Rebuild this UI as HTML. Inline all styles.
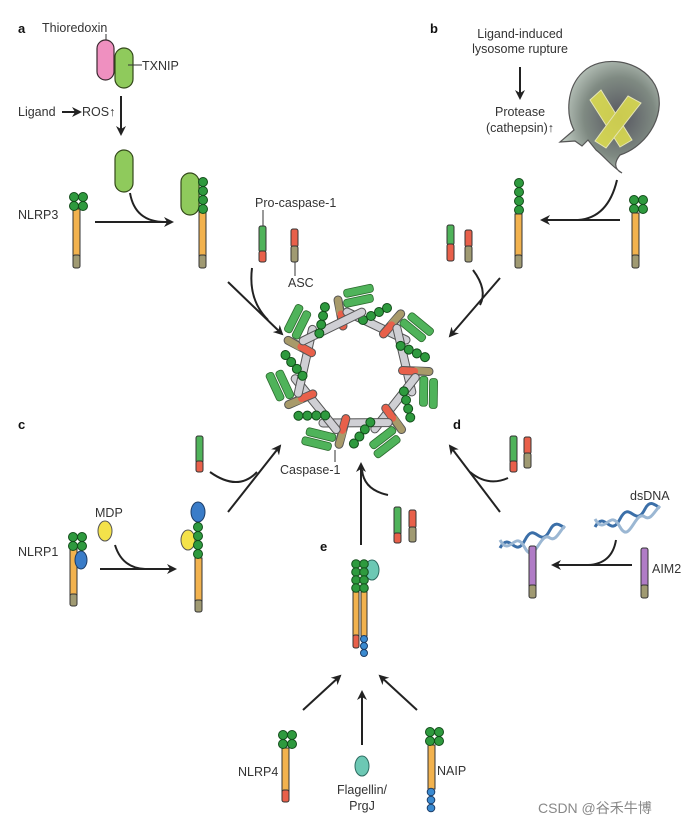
<!DOCTYPE html>
<html><head><meta charset="utf-8"><style>
html,body{margin:0;padding:0;background:#fff}
svg{display:block}
text{font-family:"Liberation Sans","Noto Sans CJK SC",sans-serif;fill:#333;font-size:12.5px}
.b{font-weight:bold;font-size:13px;fill:#111}
</style></head><body>
<svg width="690" height="824" viewBox="0 0 690 824" xmlns="http://www.w3.org/2000/svg">
<defs>
<marker id="ar" markerWidth="10" markerHeight="10" refX="8" refY="5" orient="auto" markerUnits="userSpaceOnUse">
<path d="M0,0 L10,5 L0,10 L3,5 Z" fill="#222"/></marker>
<radialGradient id="lys" cx="0.6" cy="0.5" r="0.65"><stop offset="0" stop-color="#55555f"/><stop offset="0.55" stop-color="#7f8a82"/><stop offset="1" stop-color="#cdd8cf"/></radialGradient>
<g id="ring1">
 <line x1="338" y1="300" x2="343" y2="326" stroke="#555" stroke-width="9" stroke-linecap="round"/>
 <line x1="338" y1="300" x2="340" y2="313" stroke="#a89a6a" stroke-width="7" stroke-linecap="round"/>
 <line x1="341" y1="314" x2="343" y2="326" stroke="#e8604a" stroke-width="7" stroke-linecap="round"/>
 <g stroke="#2c6a2e" stroke-width="0.8" fill="#4fb35a">
  <rect x="343" y="290" width="30" height="8" rx="3" transform="rotate(-12 343 290)"/>
  <rect x="343" y="300" width="30" height="8" rx="3" transform="rotate(-12 343 300)"/>
 </g>
 <line x1="347" y1="312" x2="406" y2="340" stroke="#555" stroke-width="9" stroke-linecap="round"/>
 <line x1="347" y1="312" x2="406" y2="340" stroke="#cfcfd4" stroke-width="7" stroke-linecap="round"/>
 <g fill="#2e9a3e" stroke="#134d1b" stroke-width="1">
  <circle cx="363" cy="320" r="4.5"/><circle cx="371" cy="316" r="4.5"/><circle cx="379" cy="312" r="4.5"/><circle cx="387" cy="308" r="4.5"/>
 </g>
</g>
</defs>

<!-- Panel a -->
<text x="18" y="33" class="b">a</text>
<text x="42" y="32">Thioredoxin</text>
<line x1="106" y1="34" x2="106" y2="41" stroke="#333"/>
<rect x="97" y="40" width="17" height="40" rx="8.5" fill="#ef90c0" stroke="#3a2a30" stroke-width="1.2"/>
<rect x="115" y="48" width="18" height="40" rx="9" fill="#8fca5c" stroke="#33481a" stroke-width="1.2"/>
<line x1="128" y1="65" x2="142" y2="65" stroke="#333"/>
<text x="142" y="70">TXNIP</text>
<text x="18" y="116">Ligand</text>
<line x1="62" y1="112" x2="80" y2="112" stroke="#222" stroke-width="2" marker-end="url(#ar)"/>
<text x="82" y="116">ROS↑</text>
<line x1="121" y1="96" x2="121" y2="134" stroke="#222" stroke-width="2" marker-end="url(#ar)"/>
<rect x="115" y="150" width="18" height="42" rx="9" fill="#8fca5c" stroke="#33481a" stroke-width="1.2"/>
<text x="18" y="219">NLRP3</text>
<g stroke="#333" stroke-width="1"><rect x="73" y="209" width="7" height="48" fill="#f2b24e"/><rect x="73" y="255" width="7" height="13" rx="2" fill="#a09a72"/></g>
<g fill="#2e9a3e" stroke="#134d1b"><circle cx="74" cy="197" r="4.5"/><circle cx="83" cy="197" r="4.5"/><circle cx="74" cy="206" r="4.5"/><circle cx="83" cy="206" r="4.5"/></g>
<line x1="95" y1="222" x2="172" y2="222" stroke="#222" stroke-width="2" marker-end="url(#ar)"/>
<path d="M130,193 Q135,222 165,222" fill="none" stroke="#222" stroke-width="2"/>
<rect x="181" y="173" width="18" height="42" rx="9" fill="#8fca5c" stroke="#33481a" stroke-width="1.2"/>
<g stroke="#333" stroke-width="1"><rect x="199" y="211" width="7" height="46" fill="#f2b24e"/><rect x="199" y="255" width="7" height="13" rx="2" fill="#a09a72"/></g>
<g fill="#2e9a3e" stroke="#134d1b"><circle cx="203" cy="182" r="4.5"/><circle cx="203" cy="191" r="4.5"/><circle cx="203" cy="200" r="4.5"/><circle cx="203" cy="209" r="4.5"/></g>
<text x="255" y="207">Pro-caspase-1</text>
<line x1="263" y1="210" x2="263" y2="226" stroke="#333"/>
<g stroke="#333" stroke-width="1"><rect x="259" y="226" width="7" height="26" rx="2" fill="#4fb35a"/><rect x="259" y="251" width="7" height="11" rx="2" fill="#e8604a"/>
<rect x="291" y="229" width="7" height="18" rx="2" fill="#e8604a"/><rect x="291" y="246" width="7" height="16" rx="2" fill="#a09a72"/></g>
<line x1="295" y1="262" x2="295" y2="276" stroke="#333"/>
<text x="288" y="287">ASC</text>
<line x1="228" y1="282" x2="282" y2="334" stroke="#222" stroke-width="2" marker-end="url(#ar)"/>
<path d="M252,268 Q248,300 268,320" fill="none" stroke="#222" stroke-width="2"/>

<!-- Panel b -->
<text x="430" y="33" class="b">b</text>
<text x="520" y="38" text-anchor="middle">Ligand-induced</text>
<text x="520" y="53" text-anchor="middle">lysosome rupture</text>
<line x1="520" y1="67" x2="520" y2="98" stroke="#222" stroke-width="2" marker-end="url(#ar)"/>
<text x="520" y="116" text-anchor="middle">Protease</text>
<text x="520" y="132" text-anchor="middle">(cathepsin)↑</text>
<path d="M622,173 C612,168 616,160 620,155 C650,145 668,110 655,85 C640,58 600,55 583,72 C566,88 566,115 574,130 L560,142 L575,141 L582,146 L588,140 L596,150 C604,156 610,165 622,173 Z" fill="url(#lys)" stroke="#555" stroke-width="1.2"/>
<g stroke="#fbf9c0" stroke-width="1" fill="#e0e04e" opacity="0.85">
<polygon points="590,100 601,90 632,140 620,147"/><polygon points="628,96 641,103 606,148 595,141"/></g>
<g fill="#2e9a3e" stroke="#134d1b"><circle cx="634" cy="200" r="4.5"/><circle cx="643" cy="200" r="4.5"/><circle cx="634" cy="209" r="4.5"/><circle cx="643" cy="209" r="4.5"/></g>
<g stroke="#333" stroke-width="1"><rect x="632" y="213" width="7" height="44" fill="#f2b24e"/><rect x="632" y="255" width="7" height="13" rx="2" fill="#a09a72"/></g>
<line x1="620" y1="220" x2="542" y2="220" stroke="#222" stroke-width="2" marker-end="url(#ar)"/>
<path d="M617,180 Q608,218 578,220" fill="none" stroke="#222" stroke-width="2"/>
<g fill="#2e9a3e" stroke="#134d1b"><circle cx="519" cy="183" r="4.5"/><circle cx="519" cy="192" r="4.5"/><circle cx="519" cy="201" r="4.5"/><circle cx="519" cy="210" r="4.5"/></g>
<g stroke="#333" stroke-width="1"><rect x="515" y="214" width="7" height="43" fill="#f2b24e"/><rect x="515" y="255" width="7" height="13" rx="2" fill="#a09a72"/>
<rect x="447" y="225" width="7" height="20" rx="2" fill="#4fb35a"/><rect x="447" y="244" width="7" height="17" rx="2" fill="#e8604a"/>
<rect x="465" y="230" width="7" height="17" rx="2" fill="#e8604a"/><rect x="465" y="246" width="7" height="16" rx="2" fill="#a09a72"/></g>
<line x1="500" y1="278" x2="450" y2="336" stroke="#222" stroke-width="2" marker-end="url(#ar)"/>
<path d="M473,270 Q488,290 480,305" fill="none" stroke="#222" stroke-width="2"/>

<!-- Ring -->
<use href="#ring1"/>
<use href="#ring1" transform="rotate(51.43 355 372)"/>
<use href="#ring1" transform="rotate(102.86 355 372)"/>
<use href="#ring1" transform="rotate(154.29 355 372)"/>
<use href="#ring1" transform="rotate(205.71 355 372)"/>
<use href="#ring1" transform="rotate(257.14 355 372)"/>
<use href="#ring1" transform="rotate(308.57 355 372)"/>
<line x1="335" y1="450" x2="335" y2="462" stroke="#333"/>
<text x="280" y="474">Caspase-1</text>

<!-- Panel c -->
<text x="18" y="429" class="b">c</text>
<g stroke="#333" stroke-width="1"><rect x="196" y="436" width="7" height="27" rx="2" fill="#4fb35a"/><rect x="196" y="461" width="7" height="11" rx="2" fill="#e8604a"/></g>
<path d="M210,472 Q238,492 257,472" fill="none" stroke="#222" stroke-width="2"/>
<line x1="228" y1="512" x2="280" y2="446" stroke="#222" stroke-width="2" marker-end="url(#ar)"/>
<text x="18" y="556">NLRP1</text>
<g stroke="#333" stroke-width="1"><rect x="70" y="549" width="7" height="48" fill="#f2b24e"/><rect x="70" y="594" width="7" height="12" rx="2" fill="#a09a72"/></g>
<ellipse cx="81" cy="560" rx="6" ry="9" fill="#3a7cc8" stroke="#1d3c66"/>
<g fill="#2e9a3e" stroke="#134d1b"><circle cx="73" cy="537" r="4.5"/><circle cx="82" cy="537" r="4.5"/><circle cx="73" cy="546" r="4.5"/><circle cx="82" cy="546" r="4.5"/></g>
<text x="95" y="517">MDP</text>
<ellipse cx="105" cy="531" rx="7" ry="10" fill="#f4e24a" stroke="#555"/>
<line x1="100" y1="569" x2="175" y2="569" stroke="#222" stroke-width="2" marker-end="url(#ar)"/>
<path d="M115,545 Q122,568 145,569" fill="none" stroke="#222" stroke-width="2"/>
<ellipse cx="198" cy="512" rx="7" ry="10" fill="#3a7cc8" stroke="#1d3c66"/>
<ellipse cx="188" cy="540" rx="7" ry="10" fill="#f4e24a" stroke="#555"/>
<g stroke="#333" stroke-width="1"><rect x="195" y="558" width="7" height="44" fill="#f2b24e"/><rect x="195" y="600" width="7" height="12" rx="2" fill="#a09a72"/></g>
<g fill="#2e9a3e" stroke="#134d1b"><circle cx="198" cy="527" r="4.5"/><circle cx="198" cy="536" r="4.5"/><circle cx="198" cy="545" r="4.5"/><circle cx="198" cy="554" r="4.5"/></g>

<!-- Panel e -->
<text x="320" y="551" class="b">e</text>
<line x1="361" y1="545" x2="361" y2="464" stroke="#222" stroke-width="2" marker-end="url(#ar)"/>
<path d="M388,495 Q364,490 362,470" fill="none" stroke="#222" stroke-width="2"/>
<g stroke="#333" stroke-width="1"><rect x="394" y="507" width="7" height="28" rx="2" fill="#4fb35a"/><rect x="394" y="533" width="7" height="10" rx="2" fill="#e8604a"/>
<rect x="409" y="510" width="7" height="18" rx="2" fill="#e8604a"/><rect x="409" y="527" width="7" height="15" rx="2" fill="#a09a72"/></g>
<ellipse cx="372" cy="570" rx="7" ry="10" fill="#6cc8b4" stroke="#2e6a60"/>
<g stroke="#333" stroke-width="1"><rect x="353" y="592" width="6" height="46" fill="#f2b24e"/><rect x="353" y="635" width="6" height="13" rx="2" fill="#e8604a"/><rect x="361" y="592" width="6" height="44" fill="#f2b24e"/></g>
<g fill="#2e9a3e" stroke="#134d1b"><circle cx="356" cy="564" r="4.3"/><circle cx="364" cy="564" r="4.3"/><circle cx="356" cy="572" r="4.3"/><circle cx="364" cy="572" r="4.3"/><circle cx="356" cy="580" r="4.3"/><circle cx="364" cy="580" r="4.3"/><circle cx="356" cy="588" r="4.3"/><circle cx="364" cy="588" r="4.3"/></g>
<g fill="#3a8ad0" stroke="#1d3c66"><circle cx="364" cy="639" r="3.5"/><circle cx="364" cy="646" r="3.5"/><circle cx="364" cy="653" r="3.5"/></g>
<line x1="303" y1="710" x2="340" y2="676" stroke="#222" stroke-width="2" marker-end="url(#ar)"/>
<line x1="362" y1="745" x2="362" y2="692" stroke="#222" stroke-width="2" marker-end="url(#ar)"/>
<line x1="417" y1="710" x2="380" y2="676" stroke="#222" stroke-width="2" marker-end="url(#ar)"/>
<text x="238" y="776">NLRP4</text>
<g stroke="#333" stroke-width="1"><rect x="282" y="748" width="7" height="44" fill="#f2b24e"/><rect x="282" y="790" width="7" height="12" rx="2" fill="#e8604a"/></g>
<g fill="#2e9a3e" stroke="#134d1b"><circle cx="283" cy="735" r="4.5"/><circle cx="292" cy="735" r="4.5"/><circle cx="283" cy="744" r="4.5"/><circle cx="292" cy="744" r="4.5"/></g>
<ellipse cx="362" cy="766" rx="7" ry="10" fill="#6cc8b4" stroke="#2e6a60"/>
<text x="362" y="794" text-anchor="middle">Flagellin/</text>
<text x="362" y="810" text-anchor="middle">PrgJ</text>
<g stroke="#333" stroke-width="1"><rect x="428" y="745" width="7" height="44" fill="#f2b24e"/></g>
<g fill="#2e9a3e" stroke="#134d1b"><circle cx="430" cy="732" r="4.5"/><circle cx="439" cy="732" r="4.5"/><circle cx="430" cy="741" r="4.5"/><circle cx="439" cy="741" r="4.5"/></g>
<g fill="#3a8ad0" stroke="#1d3c66"><circle cx="431" cy="792" r="3.8"/><circle cx="431" cy="800" r="3.8"/><circle cx="431" cy="808" r="3.8"/></g>
<text x="437" y="775">NAIP</text>

<!-- Panel d -->
<text x="453" y="429" class="b">d</text>
<g stroke="#333" stroke-width="1"><rect x="510" y="436" width="7" height="27" rx="2" fill="#4fb35a"/><rect x="510" y="461" width="7" height="11" rx="2" fill="#e8604a"/>
<rect x="524" y="437" width="7" height="17" rx="2" fill="#e8604a"/><rect x="524" y="453" width="7" height="15" rx="2" fill="#a09a72"/></g>
<line x1="500" y1="512" x2="450" y2="446" stroke="#222" stroke-width="2" marker-end="url(#ar)"/>
<path d="M508,478 Q488,487 470,472" fill="none" stroke="#222" stroke-width="2"/>
<g fill="none" stroke-width="3">
<path d="M500,548 C510,530 515,560 525,540 C535,520 540,550 550,530 C555,520 560,525 565,528" stroke="#3b6fa8"/>
<path d="M500,540 C510,558 515,528 525,548 C535,566 540,530 550,538 C556,542 560,530 565,526" stroke="#9bb7d3"/>
<path d="M595,527 C605,509 610,539 620,519 C630,499 635,529 645,509 C650,499 655,505 660,508" stroke="#3b6fa8"/>
<path d="M595,519 C605,537 610,507 620,527 C630,545 635,509 645,517 C651,521 655,510 660,506" stroke="#9bb7d3"/>
</g>
<text x="630" y="500">dsDNA</text>
<g stroke="#333" stroke-width="1"><rect x="529" y="546" width="7" height="42" rx="2" fill="#b07cc6"/><rect x="529" y="585" width="7" height="13" rx="2" fill="#a09a72"/>
<rect x="641" y="548" width="7" height="40" rx="2" fill="#b07cc6"/><rect x="641" y="585" width="7" height="13" rx="2" fill="#a09a72"/></g>
<text x="652" y="573">AIM2</text>
<line x1="632" y1="565" x2="553" y2="565" stroke="#222" stroke-width="2" marker-end="url(#ar)"/>
<path d="M616,540 Q612,564 588,565" fill="none" stroke="#222" stroke-width="2"/>

<text x="538" y="813" style="fill:#888;font-size:14px">CSDN @谷禾牛博</text>
</svg>
</body></html>
